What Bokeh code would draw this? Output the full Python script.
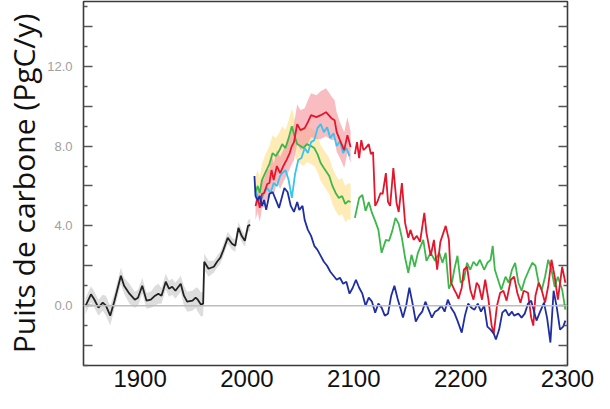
from bokeh.plotting import figure
from bokeh.models import Range1d, FixedTicker, LinearAxis, Span
from bokeh.embed import file_html
from bokeh.resources import INLINE

# ---------------- data ----------------
hist_years = [1849, 1854, 1857, 1861, 1865, 1868, 1872, 1876, 1882, 1885, 1890, 1895, 1898, 1902, 1906,
              1910, 1914, 1917, 1920, 1924, 1927, 1930, 1933, 1938, 1941, 1944, 1949, 1952, 1954, 1957,
              1959, 1960, 1964, 1969, 1972, 1975, 1978, 1982, 1986, 1989, 1992, 1995, 1998, 2001, 2003]
hist_vals = [0.0, 0.57, 0.32, -0.1, 0.15, 0.0, -0.5, 0.25, 1.5, 1.0, 0.6, 0.3, 0.4, 1.0, 0.25,
             0.3, 0.5, 0.6, 0.5, 1.2, 0.85, 0.95, 0.75, 1.1, 0.5, 0.2, 0.25, 0.4, 0.3, 0.05,
             0.1, 2.2, 1.85, 1.95, 2.2, 2.4, 2.8, 3.4, 3.1, 3.0, 3.9, 3.5, 3.25, 4.0, 4.05]
hist_spread = [0.4, 0.4, 0.4, 0.4, 0.4, 0.5, 0.5, 0.4, 0.4, 0.4, 0.5, 0.4, 0.4, 0.4, 0.4,
               0.4, 0.5, 0.5, 0.4, 0.4, 0.4, 0.4, 0.4, 0.4, 0.5, 0.5, 0.5, 0.5, 0.6, 0.6,
               0.6, 0.4, 0.4, 0.3, 0.3, 0.3, 0.3, 0.3, 0.3, 0.3, 0.3, 0.3, 0.3, 0.3, 0.3]

red1_years = [2008, 2010, 2012, 2014, 2016, 2019, 2021, 2023, 2025, 2028, 2031, 2034, 2037, 2040, 2042,
              2044, 2047, 2050, 2054, 2057, 2060, 2065, 2069, 2074, 2079, 2082, 2084, 2087, 2091, 2094, 2097]
red1_vals = [5.0, 5.4, 4.9, 5.6, 5.65, 6.1, 6.15, 6.8, 6.3, 7.0, 6.65, 7.0, 7.3, 7.65, 8.0,
             8.2, 9.1, 8.8, 8.9, 9.2, 9.55, 9.45, 9.55, 9.7, 9.4, 9.3, 8.7, 8.3, 7.8, 8.55, 7.95]
red1_spread = [0.7, 0.7, 0.7, 0.7, 0.7, 0.7, 0.7, 0.8, 0.8, 0.8, 0.8, 0.8, 0.8, 0.8, 0.9,
               0.9, 1.0, 1.0, 1.0, 1.1, 1.1, 1.1, 1.2, 1.2, 1.1, 1.0, 1.0, 0.9, 0.9, 0.9, 0.8]
red2_years = [2101, 2103, 2105, 2107, 2109, 2111, 2114, 2116, 2118, 2120, 2122, 2125, 2127, 2130, 2132,
              2134, 2137, 2140, 2142, 2145, 2148, 2151, 2153, 2156, 2159, 2162, 2166, 2168, 2172, 2175,
              2178, 2181, 2186, 2189, 2191, 2194, 2196, 2198, 2201, 2203, 2206, 2209, 2212, 2215, 2217,
              2220, 2223, 2226, 2229, 2231, 2234, 2237, 2240, 2243, 2247, 2250, 2253, 2256, 2259, 2263,
              2266, 2268, 2270, 2273, 2276, 2279, 2282, 2285, 2288, 2291, 2295, 2298]
red2_vals = [7.6, 8.2, 7.4, 8.3, 7.8, 7.9, 8.1, 7.6, 7.7, 5.0, 5.2, 5.65, 5.6, 6.65, 5.2,
             5.0, 6.9, 5.15, 4.7, 6.15, 4.15, 3.4, 3.8, 3.3, 3.5, 3.2, 4.65, 3.65, 2.5, 3.3,
             1.8, 3.2, 4.0, 3.3, 1.15, 0.8, 0.6, 0.35, 0.9, 1.8, 1.95, 0.8, 0.3, 1.15, 1.0,
             0.3, 1.3, 0.3, -1.0, -1.4, 0.0, 0.65, 0.75, 0.25, 1.3, 1.45, 0.65, 0.15, 0.75, 0.65,
             -0.6, -1.0, 0.5, 1.15, 0.75, 0.15, 1.0, 2.3, 1.45, 0.3, 1.95, 1.15]

green1_years = [2008, 2010, 2012, 2014, 2017, 2021, 2024, 2027, 2030, 2033, 2036, 2039, 2042, 2044, 2047,
                2050, 2053, 2056, 2060, 2063, 2066, 2069, 2072, 2077, 2080, 2083, 2086, 2089, 2092, 2095, 2097]
green1_vals = [5.7, 6.0, 5.65, 6.3, 6.65, 7.1, 7.65, 7.5, 7.75, 8.1, 7.9, 8.4, 9.0, 8.6, 8.1,
               8.0, 7.9, 8.1, 8.0, 7.9, 7.6, 7.15, 6.9, 6.5, 6.0, 5.65, 5.4, 5.5, 5.1, 5.25, 5.2]
green1_spread = [0.8, 0.8, 0.8, 0.8, 0.9, 0.9, 0.9, 0.9, 0.9, 0.9, 0.9, 0.9, 0.9, 0.9, 0.9,
                 0.9, 0.9, 0.9, 0.9, 0.9, 0.9, 0.9, 0.9, 0.9, 0.9, 0.9, 0.9, 0.9, 0.9, 0.9, 0.9]
green2_years = [2101, 2103, 2105, 2108, 2111, 2114, 2117, 2120, 2123, 2126, 2130, 2133, 2136, 2139, 2142,
                2145, 2148, 2151, 2154, 2157, 2160, 2165, 2168, 2172, 2176, 2180, 2183, 2186, 2189, 2192,
                2194, 2197, 2200, 2203, 2206, 2209, 2212, 2215, 2218, 2222, 2225, 2228, 2230, 2232, 2235,
                2238, 2242, 2245, 2248, 2251, 2254, 2257, 2260, 2264, 2267, 2270, 2273, 2276, 2279, 2282,
                2285, 2288, 2291, 2295, 2298]
green2_vals = [4.4, 4.9, 5.4, 5.55, 4.75, 5.2, 4.65, 4.25, 3.8, 2.65, 3.3, 3.25, 3.75, 4.4, 4.1,
               3.4, 2.4, 1.65, 2.55, 1.95, 2.65, 3.3, 2.25, 2.65, 2.25, 2.65, 2.15, 2.65, 0.85, 1.2,
               1.8, 2.5, 1.15, 1.3, 2.15, 1.8, 2.2, 2.0, 2.3, 1.8, 2.15, 2.3, 3.0, 1.8, 1.3,
               0.8, 1.45, 1.15, 1.8, 2.15, 1.15, 0.75, 1.3, 1.8, 2.15, 2.0, 1.15, 0.8, 1.45, 2.3,
               1.8, 0.95, 1.45, 0.8, -0.2]

cyan_years = [2008, 2010, 2013, 2016, 2019, 2022, 2025, 2028, 2031, 2033, 2036, 2039, 2042, 2045, 2048,
              2051, 2054, 2057, 2060, 2063, 2066, 2069, 2072, 2075, 2078, 2081, 2084, 2087, 2090, 2093, 2096]
cyan_vals = [5.7, 5.5, 5.25, 5.65, 5.9, 5.65, 6.15, 6.0, 6.5, 6.65, 6.8, 6.3, 5.4, 6.6, 7.3,
             7.4, 7.9, 7.65, 8.2, 8.3, 8.9, 9.1, 8.7, 8.95, 8.4, 8.65, 8.0, 8.25, 7.65, 7.9, 7.5]

blue_years = [2007, 2008, 2010, 2012, 2014, 2016, 2018, 2021, 2024, 2027, 2030, 2032, 2035, 2038, 2041,
              2044, 2047, 2049, 2052, 2054, 2057, 2060, 2063, 2066, 2069, 2072, 2075, 2078, 2081, 2084,
              2087, 2090, 2093, 2096, 2099, 2102, 2105, 2108, 2111, 2114, 2117, 2120, 2123, 2126, 2129,
              2132, 2135, 2138, 2141, 2144, 2146, 2149, 2152, 2155, 2158, 2161, 2164, 2167, 2170, 2173,
              2176, 2179, 2182, 2185, 2188, 2191, 2194, 2197, 2201, 2204, 2207, 2210, 2213, 2216, 2219,
              2222, 2225, 2228, 2231, 2233, 2236, 2239, 2242, 2245, 2248, 2250, 2254, 2257, 2260, 2263,
              2266, 2269, 2271, 2274, 2278, 2281, 2284, 2287, 2290, 2293, 2296, 2298]
blue_vals = [6.5, 5.5, 5.3, 5.5, 5.0, 5.3, 4.8, 5.6, 5.7, 5.3, 4.9, 5.3, 5.9, 5.7, 5.0,
             4.7, 5.2, 4.8, 5.0, 4.3, 3.8, 3.5, 3.0, 2.8, 2.5, 2.2, 2.0, 1.7, 1.5, 1.3,
             1.4, 1.1, 1.2, 0.6, 0.9, 1.3, 0.9, 0.6, 0.0, 0.4, 0.2, -0.35, 0.1, -0.1, -0.5,
             -0.4, 0.5, 1.0, 0.35, -0.2, -0.6, 0.0, 0.9, 0.1, -0.8, -0.5, -0.3, 0.2, -0.2, -0.6,
             -0.3, -0.2, 0.0, -0.3, 0.3, -0.1, -0.35, -0.75, -1.35, -0.5, 0.1, -0.1, -0.2, 0.1, -0.3,
             0.0, -1.05, -1.2, -1.4, -1.7, -1.2, -0.35, -0.2, -0.5, -0.3, -0.5, -0.4, -0.6, -0.4, 0.1,
             0.25, -0.35, -0.75, -0.35, 0.15, -0.65, -1.85, 0.75, -0.1, -1.2, -1.05, -0.75]

y_ticks = [-2, 0, 2, 4, 6, 8, 10, 12, 14]
y_minor = [-3, -1, 1, 3, 5, 7, 9, 11, 13, 15]
y_tick_labels = {-2: "", 0: "0.0", 2: "", 4: "4.0", 6: "", 8: "8.0", 10: "", 12: "12.0", 14: ""}
x_ticks = [1900, 2000, 2100, 2200, 2300]
y_title = "Puits de carbone (PgC/y)"

# ---------------- figure ----------------
p = figure(width=594, height=393, x_range=Range1d(1847, 2300), y_range=Range1d(-3, 15.25),
           output_backend="svg", toolbar_location=None,
           min_border_left=81, min_border_right=27, min_border_top=1, min_border_bottom=28)
p.grid.visible = False
p.outline_line_color = "#3a3a3a"
p.outline_line_width = 1.6
p.background_fill_color = "white"
p.border_fill_color = "white"

def lo(v, s):
    return [a - b for a, b in zip(v, s)]

def hi(v, s):
    return [a + b for a, b in zip(v, s)]

# bands
p.varea(x=green1_years, y1=lo(green1_vals, green1_spread), y2=hi(green1_vals, green1_spread),
        fill_color="#fde49c", fill_alpha=0.75)
p.varea(x=red1_years, y1=lo(red1_vals, red1_spread), y2=hi(red1_vals, red1_spread),
        fill_color="#f5a0a6", fill_alpha=0.7)
p.varea(x=hist_years, y1=lo(hist_vals, hist_spread), y2=hi(hist_vals, hist_spread),
        fill_color="#cfcfcf", fill_alpha=0.7)

p.add_layout(Span(location=0, dimension="width", line_color="#bdbdbd", line_width=1.5))

lw = 1.8
p.line(green1_years, green1_vals, line_color="#3cb84a", line_width=lw)
p.line(green2_years, green2_vals, line_color="#3cb84a", line_width=lw)
p.line(cyan_years, cyan_vals, line_color="#38c4ee", line_width=lw)
p.line(red1_years, red1_vals, line_color="#e3162b", line_width=lw)
p.line(red2_years, red2_vals, line_color="#e3162b", line_width=lw)
p.line(blue_years, blue_vals, line_color="#1f2fa3", line_width=lw)
p.line(hist_years, hist_vals, line_color="#222222", line_width=lw)

# x axis
xa = p.xaxis[0]
xa.ticker = FixedTicker(ticks=x_ticks)
xa.major_tick_in = 0
xa.major_tick_out = 0
xa.minor_tick_in = 0
xa.minor_tick_out = 0
xa.axis_line_color = None
xa.major_label_standoff = 4
xa.major_label_text_font = "Liberation Sans"
xa.major_label_text_font_size = "24px"
xa.major_label_text_color = "#111111"

# y axis left
ya = p.yaxis[0]
ya.ticker = FixedTicker(ticks=y_ticks, minor_ticks=y_minor)
ya.major_label_overrides = y_tick_labels
ya.major_tick_in = 9
ya.major_tick_out = 0
ya.minor_tick_in = 4
ya.minor_tick_out = 0
ya.major_tick_line_color = "#555555"
ya.minor_tick_line_color = "#555555"
ya.major_tick_line_width = 1.5
ya.minor_tick_line_width = 1.5
ya.axis_line_color = None
ya.major_label_standoff = 11
ya.major_label_text_font = "Liberation Sans"
ya.major_label_text_font_size = "13px"
ya.major_label_text_color = "#a0a0a0"
ya.axis_label = y_title
ya.axis_label_text_font = "Open Sans"
ya.axis_label_text_font_style = "normal"
ya.axis_label_text_font_size = "30px"
ya.axis_label_text_color = "#111111"
ya.axis_label_standoff = 0

# y axis right (ticks only)
ra = LinearAxis(ticker=FixedTicker(ticks=y_ticks, minor_ticks=y_minor))
ra.major_tick_in = 9
ra.major_tick_out = 0
ra.minor_tick_in = 4
ra.minor_tick_out = 0
ra.major_tick_line_color = "#555555"
ra.minor_tick_line_color = "#555555"
ra.major_tick_line_width = 1.5
ra.minor_tick_line_width = 1.5
ra.axis_line_color = None
ra.major_label_text_font_size = "0px"
ra.major_label_text_color = None
p.add_layout(ra, "right")

open("out.html", "w").write(file_html(p, INLINE))
